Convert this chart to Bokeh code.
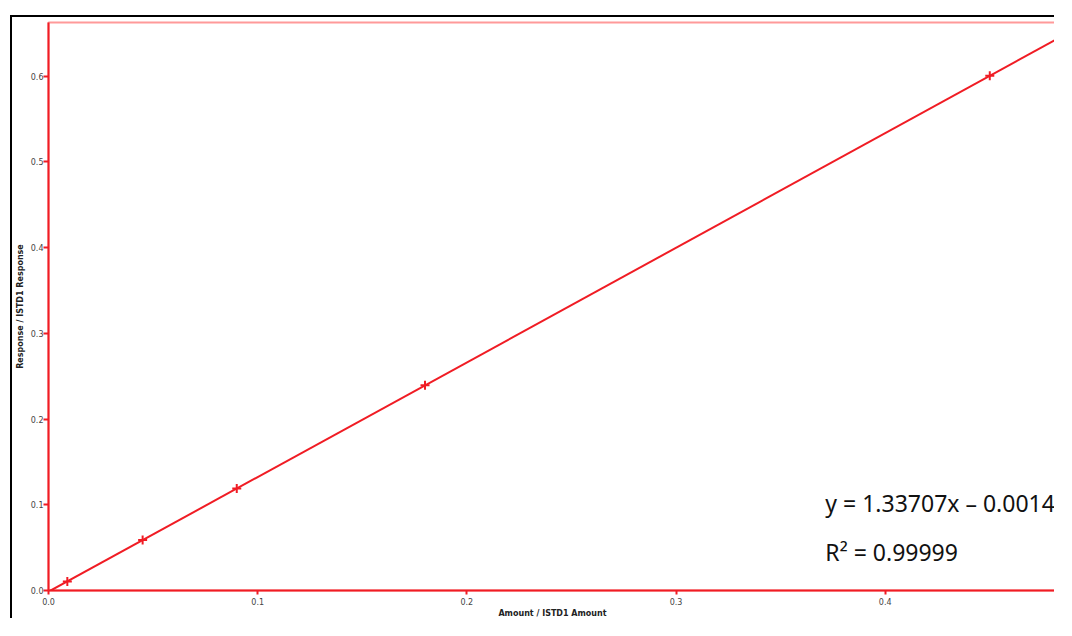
from bokeh.plotting import figure
from bokeh.models import Range1d, Label, FixedTicker, NumeralTickFormatter, InlineStyleSheet
from bokeh.embed import file_html
from bokeh.resources import INLINE

# Calibration data
amount_ratio = [0.0090, 0.0450, 0.0900, 0.1800, 0.4500]
response_ratio = [0.0106, 0.0588, 0.1190, 0.2393, 0.6003]
slope = 1.33707
intercept = -0.0014
r_squared = 0.99999
x_ticks = [0.0, 0.1, 0.2, 0.3, 0.4]
y_ticks = [0.0, 0.1, 0.2, 0.3, 0.4, 0.5, 0.6]

X_MAX = 0.4819
Y_MAX = 0.6625
RED = "#f01c24"

p = figure(width=1044, height=603, output_backend="svg", toolbar_location=None,
           x_range=Range1d(0, X_MAX), y_range=Range1d(0, Y_MAX),
           min_border_left=32, min_border_top=5, min_border_bottom=27, min_border_right=0)
p.stylesheets = [InlineStyleSheet(css=":host { margin: 15px 0 0 10px; border-top: 2px solid black; border-left: 2px solid black; }")]

p.xgrid.visible = False
p.ygrid.visible = False
p.background_fill_color = "white"
p.border_fill_color = "white"
p.outline_line_color = "#ff9a9a"
p.outline_line_width = 2

for ax in (p.xaxis[0], p.yaxis[0]):
    ax.axis_line_color = RED
    ax.axis_line_width = 2
    ax.major_tick_line_color = RED
    ax.major_tick_line_width = 2
    ax.major_tick_in = 0
    ax.minor_tick_line_color = None
    ax.major_label_text_font = "DejaVu Sans"
    ax.major_label_text_font_size = "8px"
    ax.major_label_text_color = "#444444"
    ax.axis_label_text_font = "DejaVu Sans"
    ax.axis_label_text_font_size = "8px"
    ax.axis_label_text_font_style = "bold"
    ax.axis_label_text_color = "#222222"

p.xaxis.ticker = FixedTicker(ticks=x_ticks)
p.yaxis.ticker = FixedTicker(ticks=y_ticks)
p.xaxis.formatter = NumeralTickFormatter(format="0.0")
p.yaxis.formatter = NumeralTickFormatter(format="0.0")
p.xaxis.major_tick_out = 4
p.yaxis.major_tick_out = 5
p.xaxis.major_label_standoff = 3
p.yaxis.major_label_standoff = 0
p.xaxis.axis_label_standoff = 1
p.yaxis.axis_label_standoff = 3
p.xaxis.axis_label = "Amount / ISTD1 Amount"
p.yaxis.axis_label = "Response / ISTD1 Response"

# regression line from equation
line_x = [0.0, X_MAX]
line_y = [slope * v + intercept for v in line_x]
p.line(line_x, line_y, line_color=RED, line_width=2)

p.scatter(amount_ratio, response_ratio, marker="cross", size=9,
          line_color=RED, line_width=2)

eq_text = "y = %.5fx \u2013 %.4f" % (slope, -intercept)
p.add_layout(Label(x=0.3714, y=0.102, text=eq_text, text_font="Noto Sans",
                   text_font_size="23px", text_color="#111111", text_baseline="alphabetic"))
p.add_layout(Label(x=0.3714, y=0.045, text="R\u00b2 = %.5f" % r_squared,
                   text_font="Noto Sans", text_font_size="23px", text_color="#111111",
                   text_baseline="alphabetic"))

open("out.html", "w").write(file_html(p, INLINE))
